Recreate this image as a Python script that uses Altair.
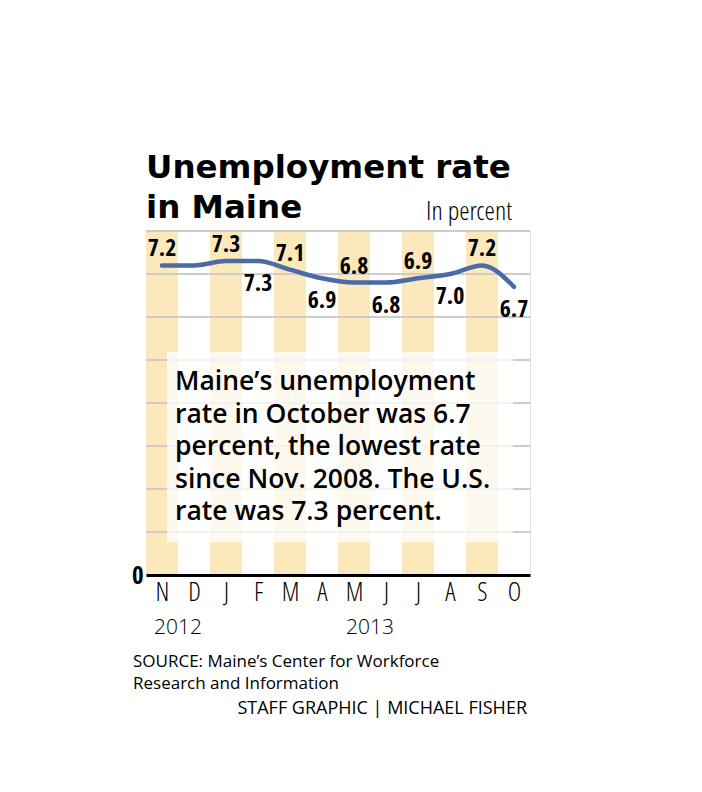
import altair as alt
import pandas as pd

# ---- data ----
months = ["N", "D", "J", "F", "M", "A", "M", "J", "J", "A", "S", "O"]
rates = [7.2, 7.2, 7.3, 7.3, 7.1, 6.9, 6.8, 6.8, 6.9, 7.0, 7.2, 6.7]
label_side = ["above", "", "above", "below", "above", "below",
              "above", "below", "above", "below", "above", "below"]
years = ["2012", "2013"]
year_month_index = [0, 6]
grid_values = [1, 2, 3, 4, 5, 6, 7, 8]
y_max = 8

title_lines = ["Unemployment rate", "in Maine"]
unit_text = "In percent"
box_lines = [
    "Maine\u2019s unemployment",
    "rate in October was 6.7",
    "percent, the lowest rate",
    "since Nov. 2008. The U.S.",
    "rate was 7.3 percent.",
]
source_lines = ["SOURCE: Maine\u2019s Center for Workforce", "Research and Information"]
credit_text = "STAFF GRAPHIC | MICHAEL FISHER"

df = pd.DataFrame({
    "idx": list(range(len(months))),
    "month": months,
    "rate": rates,
    "side": label_side,
})
grid_df = pd.DataFrame({"g": grid_values})
year_df = pd.DataFrame({"year": years, "idx": year_month_index})
one = pd.DataFrame({"k": [0]})

W, H = 384, 344
STRIPE = "#fbe8bb"
LINE = "#4a6aa8"
NARROW_BOLD = "Open Sans Condensed, DejaVu Sans Condensed, sans-serif"
NARROW_LIGHT = "Open Sans Condensed Light, DejaVu Sans Condensed, sans-serif"

label_expr = "[" + ",".join("'%s'" % m for m in months) + "][datum.value]"

xscale = alt.Scale(domain=[-0.5, len(months) - 0.5], nice=False, zero=False)
yscale = alt.Scale(domain=[0, y_max], nice=False)

x_axis = alt.Axis(
    values=list(range(len(months))), labelExpr=label_expr, title=None,
    ticks=False, grid=False, domainColor="black", domainWidth=3,
    labelFont=NARROW_LIGHT, labelFontWeight=300, labelFontSize=26,
    labelColor="black", labelPadding=4, labelOverlap=False, labelBound=False,
    zindex=1,
)
y_axis = alt.Axis(
    values=[0], title=None, ticks=False, grid=False, domain=False,
    labelFont=NARROW_BOLD, labelFontWeight="bold", labelFontSize=25,
    labelColor="black", labelPadding=3,
)

stripes = alt.Chart(df).transform_filter(
    "datum.idx % 2 == 0"
).transform_calculate(
    x0="datum.idx - 0.5", x1="datum.idx + 0.5", lo="0", hi=str(y_max)
).mark_rect(color=STRIPE).encode(
    x=alt.X("x0:Q", scale=xscale, axis=x_axis),
    x2="x1:Q",
    y=alt.Y("lo:Q", scale=yscale, axis=y_axis),
    y2="hi:Q",
)

grid = alt.Chart(grid_df).mark_rule(color="#cccccc", strokeWidth=2).encode(
    y=alt.Y("g:Q", scale=yscale, axis=y_axis)
)

box = alt.Chart(one).mark_rect(color="white", opacity=0.75).encode(
    x=alt.value(21), x2=alt.value(367), y=alt.value(121), y2=alt.value(311)
)

line = alt.Chart(df).mark_line(
    color=LINE, strokeWidth=4.5, interpolate="monotone", strokeCap="round"
).encode(
    x=alt.X("idx:Q", scale=xscale, axis=x_axis),
    y=alt.Y("rate:Q", scale=yscale, axis=y_axis),
)

label_common = dict(font=NARROW_BOLD, fontWeight="bold", fontSize=24,
                    color="black", baseline="alphabetic", align="center")
labels_above = alt.Chart(df).transform_filter("datum.side == 'above'").mark_text(
    dy=-9, **label_common
).encode(
    x=alt.X("idx:Q", scale=xscale, axis=x_axis),
    y=alt.Y("rate:Q", scale=yscale, axis=y_axis),
    text=alt.Text("rate:Q", format=".1f"),
)
labels_below = alt.Chart(df).transform_filter("datum.side == 'below'").mark_text(
    dy=30, **label_common
).encode(
    x=alt.X("idx:Q", scale=xscale, axis=x_axis),
    y=alt.Y("rate:Q", scale=yscale, axis=y_axis),
    text=alt.Text("rate:Q", format=".1f"),
)

title = alt.Chart(one).mark_text(
    text=title_lines, font="DejaVu Sans", fontWeight="bold", fontSize=32.5,
    lineHeight=40, align="left", baseline="alphabetic", color="black",
).encode(x=alt.value(0), y=alt.value(-53))

unit = alt.Chart(one).mark_text(
    text=unit_text, font=NARROW_LIGHT, fontWeight=300, fontSize=26.5, align="right",
    baseline="alphabetic", color="black",
).encode(x=alt.value(366), y=alt.value(-11))

box_text = alt.Chart(one).mark_text(
    text=box_lines, font="Open Sans", fontWeight=600, fontSize=26.5,
    lineHeight=32.5, align="left", baseline="alphabetic", color="black",
).encode(x=alt.value(29), y=alt.value(159))

year_text = alt.Chart(year_df).transform_calculate(
    xm="datum.idx + 0.5"
).mark_text(
    font="Open Sans", fontWeight=300, fontSize=21, align="center",
    baseline="alphabetic", color="black",
).encode(
    x=alt.X("xm:Q", scale=xscale, axis=x_axis),
    y=alt.value(403),
    text="year:N",
)

source = alt.Chart(one).mark_text(
    text=source_lines, font="Open Sans", fontSize=17, lineHeight=21.5,
    align="left", baseline="alphabetic", color="black",
).encode(x=alt.value(-13), y=alt.value(436))

credit = alt.Chart(one).mark_text(
    text=credit_text, font="Open Sans", fontSize=18, align="right",
    baseline="alphabetic", color="black",
).encode(x=alt.value(381), y=alt.value(483))

chart = alt.layer(
    stripes, grid, box, line, labels_above, labels_below,
    title, unit, box_text, year_text, source, credit,
).properties(
    width=W, height=H,
    autosize=alt.AutoSizeParams(type="none"),
    padding={"left": 138, "top": 223, "right": 160, "bottom": 200},
).configure_view(stroke=None).configure(background="white")

chart.save("out.html", embed_options={"renderer": "svg", "actions": False})
